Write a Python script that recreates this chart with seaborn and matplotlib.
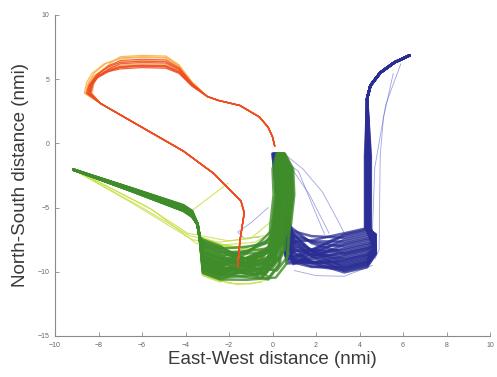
import matplotlib
matplotlib.use("Agg")
import matplotlib.pyplot as plt
import numpy as np
import pandas as pd
import seaborn as sns

# ---------------------------------------------------------------
# Track data (nautical miles east / north of the reference point)
# ---------------------------------------------------------------

# Orange arrivals: long south-east leg, loop to the north-west, back east
red_leg_x = [-1.6, -1.5, -1.3, -1.45, -2.7, -4.1, -5.95, -7.9]
red_leg_y = [-9.6, -7.6, -5.4, -4.5, -2.35, -0.6, 1.2, 3.1]
red_west = [-8.55, -8.45, -8.6, -8.35, -8.5, -8.4, -8.65, -8.3, -8.5, -8.45, -8.4, -8.55]
red_lift = [0.0, 0.15, 0.3, 0.4, 0.55, 0.65, 0.8, 0.95, 0.2, 0.5, 0.1, 0.85]
red_tone = ["o", "o", "y", "o", "y", "o", "y", "y", "o", "o", "o", "y"]
red_back_x = [-3.0, -2.5, -1.5, -0.6, -0.2, 0.0, 0.1]
red_back_y = [3.65, 3.35, 2.95, 2.05, 1.25, 0.5, -0.2]

# Green arrivals: from the west, down to the southern floor, then north
green_entry = [0.0, 0.1, -0.1, 0.2, -0.2, 0.05, 0.15, -0.15, 0.25, -0.05,
               0.1, -0.1, 0.0, 0.2, -0.2, 0.05, -0.05, 0.15, -0.15, 0.0,
               0.1, -0.1, 0.2, 0.0, -0.2, 0.05, 0.15, -0.05, 0.1, -0.15,
               0.0, 0.2, -0.1, 0.05, 0.1, -0.2, 0.15, 0.0, -0.05, 0.1]
green_floor = [-7.9, -8.1, -8.2, -8.35, -8.5, -8.6, -8.7, -8.8, -8.9, -9.0,
               -9.05, -9.15, -9.25, -9.3, -9.4, -9.5, -9.55, -9.6, -9.7, -9.75,
               -9.85, -9.9, -10.0, -10.05, -10.15, -10.2, -10.3, -10.35, -10.45, -10.55,
               -8.0, -8.45, -8.95, -9.35, -9.65, -9.95, -10.25, -10.6, -10.75, -8.25]
green_floor_east = [-8.6, -9.9, -7.9, -10.3, -8.3, -9.4, -10.6, -8.0, -9.7, -8.9,
                    -10.1, -7.8, -9.2, -10.5, -8.5, -9.0, -10.8, -8.2, -9.5, -10.0,
                    -8.8, -10.4, -7.95, -9.3, -10.7, -8.4, -9.8, -8.1, -10.2, -9.1,
                    -10.55, -8.7, -9.6, -7.85, -10.35, -8.95, -9.45, -10.65, -8.55, -9.75]
green_climb = [0.35, 0.1, 0.55, 0.2, 0.7, 0.0, 0.45, 0.25, 0.6, 0.15,
               0.8, 0.3, 0.5, -0.1, 0.65, 0.05, 0.4, 0.75, 0.2, 0.55,
               0.3, 0.0, 0.85, 0.45, 0.1, 0.6, 0.35, 0.7, 0.25, 0.5,
               0.15, 0.4, 0.65, 0.05, 0.3, 0.55, 0.2, 0.75, 0.45, 0.1]
green_tone = ["y", "g", "g", "g", "g", "g", "g", "g", "g", "g",
              "g", "g", "g", "g", "g", "g", "g", "g", "g", "g",
              "g", "g", "g", "g", "g", "g", "g", "g", "g", "g",
              "g", "g", "g", "g", "g", "g", "g", "g", "y", "g"]

# Lighter green tracks cutting the corner below the main band
yellow_paths = [
    ([-9.15, -6.5, -3.7, -2.2, -0.8, 0.1], [-2.05, -4.6, -7.5, -7.9, -7.7, -6.8]),
    ([-9.1, -6.0, -3.8, -2.5, -1.0, 0.0], [-2.1, -5.0, -7.2, -7.7, -7.4, -6.0]),
    ([-9.15, -5.5, -3.5, -1.8, -0.6], [-2.0, -5.2, -7.8, -8.2, -7.9]),
    ([-9.1, -5.8, -3.9, -2.0, -0.4], [-2.05, -4.9, -7.0, -7.6, -7.2]),
    ([-3.75, -2.9, -2.05], [-5.3, -4.2, -3.1]),
    ([-3.2, -2.0, -1.0, -0.2], [-10.2, -10.9, -10.95, -10.6]),
    ([-3.0, -1.6, -0.5], [-10.4, -11.0, -10.8]),
]

# Blue arrivals: from the north-east, down the eastern leg, west along the floor, north
blue_leg = [4.3, 4.4, 4.35, 4.45, 4.25, 4.5, 4.38, 4.32, 4.42, 4.48,
            4.28, 4.36, 4.4, 4.46, 4.34, 4.3, 4.44, 4.38, 4.52, 4.33,
            4.41, 4.37, 4.29, 4.47, 4.35, 4.43, 4.39, 4.31, 4.45, 4.36]
blue_floor = [-7.0, -7.2, -7.35, -7.5, -7.65, -7.8, -7.9, -8.05, -8.2, -8.3,
              -8.45, -8.55, -8.7, -8.8, -8.95, -9.05, -9.2, -9.3, -9.4, -9.5,
              -9.6, -9.7, -9.8, -9.85, -9.95, -10.05, -7.1, -8.6, -9.1, -9.65]
blue_floor_west = [-8.1, -9.5, -7.1, -9.7, -7.6, -8.8, -9.8, -7.3, -9.2, -8.4,
                   -9.6, -7.0, -8.6, -9.75, -7.85, -8.25, -9.4, -7.45, -9.1, -8.0,
                   -9.65, -7.2, -8.95, -9.3, -7.7, -8.5, -9.45, -7.95, -9.55, -8.7]
blue_west = [0.75, 0.9, 0.65, 1.0, 0.8, 0.7, 0.95, 0.85, 0.6, 1.05,
             0.75, 0.9, 0.8, 0.65, 1.0, 0.7, 0.85, 0.95, 0.6, 0.8,
             0.9, 0.75, 1.0, 0.7, 0.85, 0.95, 0.65, 0.8, 0.9, 0.75]

# Thin blue tracks off the main stream
blue_strays = [
    ([5.55, 5.1, 4.95, 4.9, 4.7], [5.45, 2.0, -1.0, -8.3, -9.0]),
    ([5.9, 5.2, 4.7, 4.6, 4.5], [6.2, 3.0, -1.9, -6.5, -7.2]),
    ([0.6, 1.4, 2.3, 3.0, 3.3], [-0.9, -2.0, -3.8, -6.0, -7.0]),
    ([0.7, 1.7, 2.6], [-1.5, -4.0, -7.0]),
    ([0.5, 1.2, 2.0, 2.4], [-1.2, -2.2, -5.5, -7.1]),
    ([-0.2, -1.0, -1.6, -1.3, -0.6], [-5.0, -6.2, -6.9, -7.4, -7.3]),
    ([-1.5, -0.1, 0.4], [-8.3, -7.5, -6.5]),
    ([4.6, 3.3, 2.0, 1.0], [-9.5, -10.35, -10.3, -9.9]),
]


def paths_frame(paths, prefix, tone):
    rows = []
    for j, (xs, ys) in enumerate(paths):
        for k, (x, y) in enumerate(zip(xs, ys)):
            rows.append(dict(track=f"{prefix}{j}", tone=tone, step=k, x=x, y=y))
    return pd.DataFrame(rows)


def red_tracks():
    rows = []
    for i, (w, d, t) in enumerate(zip(red_west, red_lift, red_tone)):
        loop_x = [w, w + 0.1, w + 0.35, w + 0.9, -7.0, -6.0, -4.9, -4.3, -3.7]
        loop_y = [3.9, 4.5 + 0.3 * d, 5.05 + 0.5 * d, 5.55 + 0.8 * d, 5.8 + d,
                  5.9 + d, 5.85 + d, 5.45 + 0.7 * d, 4.45 + 0.35 * d]
        xs = red_leg_x + loop_x + red_back_x
        ys = red_leg_y + loop_y + red_back_y
        for k, (x, y) in enumerate(zip(xs, ys)):
            rows.append(dict(track=f"r{i}", tone=t, step=k, x=x, y=y))
    return pd.DataFrame(rows)


def green_tracks():
    rows = []
    for i, (e, f, fe, c, t) in enumerate(zip(green_entry, green_floor, green_floor_east,
                                            green_climb, green_tone)):
        xs = [-9.15, -6.5, -4.1, -3.7, -3.45, -3.35, -3.2, -2.4, -1.2,
              c - 0.6, c - 0.1, c, c + 0.15, c + 0.1, 0.35 + 0.4 * (c - 0.3)]
        ys = [-2.05, -3.6 + 0.5 * e, -5.05 + e, -5.5 + e, -6.3, -7.3,
              f + 0.5, f, (f + fe) / 2, fe + 0.2, min(fe + 1.3, -6.8), -6.3, -4.0, -2.0, -0.8]
        for k, (x, y) in enumerate(zip(xs, ys)):
            rows.append(dict(track=f"g{i}", tone=t, step=k, x=x, y=y))
    return pd.DataFrame(rows)


def blue_tracks():
    rows = []
    for i, (lx, f, fw, w) in enumerate(zip(blue_leg, blue_floor, blue_floor_west, blue_west)):
        mid = (f - 7.2) / 2.0
        xs = [6.3, 5.6, 4.95, 4.5, 4.35, lx, lx, 4.75, 4.35, 3.3, 1.8,
              w, w - 0.25, w - 0.4, w - 0.5, w - 0.6]
        ys = [6.85, 6.3, 5.5, 4.5, 3.5, -1.0, -6.6, mid, f + 0.4, f, (f + fw) / 2,
              fw + 0.4, -6.2, -4.5, -2.5, -0.8]
        for k, (x, y) in enumerate(zip(xs, ys)):
            rows.append(dict(track=f"b{i}", tone="b", step=k, x=x, y=y))
    return pd.DataFrame(rows)


sns.set_style("ticks")
plt.rcParams["font.family"] = ["Liberation Sans", "DejaVu Sans"]

fig = plt.figure(figsize=(4.97, 3.77), dpi=100)
ax = fig.add_axes([0.1107, 0.1088, 0.8753, 0.8515])

common = dict(x="x", y="y", units="track", estimator=None, sort=False,
              legend=False, ax=ax)

sns.lineplot(data=paths_frame(blue_strays, "bs", "l"), color="#6065cc",
             lw=0.6, alpha=0.6, **common)
sns.lineplot(data=blue_tracks(), color="#2a2e94", lw=1.8, alpha=0.75, **common)
sns.lineplot(data=paths_frame(yellow_paths, "gy", "y"), color="#c6de3e",
             lw=0.8, alpha=0.8, **common)
sns.lineplot(data=green_tracks(), hue="tone", hue_order=["y", "g"],
             palette={"g": "#3f8c2a", "y": "#b8d83a"},
             lw=1.8, alpha=0.8, **common)
sns.lineplot(data=red_tracks(), hue="tone", hue_order=["y", "o"],
             palette={"o": "#ef4a22", "y": "#f7b046"},
             lw=0.9, alpha=0.85, **common)

ax.set_xlim(-10, 10)
ax.set_ylim(-15, 10)
ax.set_xticks(np.arange(-10, 11, 2))
ax.set_yticks(np.arange(-15, 11, 5))
sns.despine(ax=ax)
for side in ("left", "bottom"):
    ax.spines[side].set_color("#8a8a8a")
    ax.spines[side].set_linewidth(0.8)
ax.tick_params(direction="in", length=3, width=0.6, color="#8a8a8a",
               labelsize=5, labelcolor="#666666", pad=4)

ax.set_xlabel("East-West distance (nmi)", fontsize=13.5, color="#3a3a3a", labelpad=2)
ax.set_ylabel("North-South distance (nmi)", fontsize=13.5, color="#3a3a3a", labelpad=6)

fig.savefig("out.png", dpi=100)
